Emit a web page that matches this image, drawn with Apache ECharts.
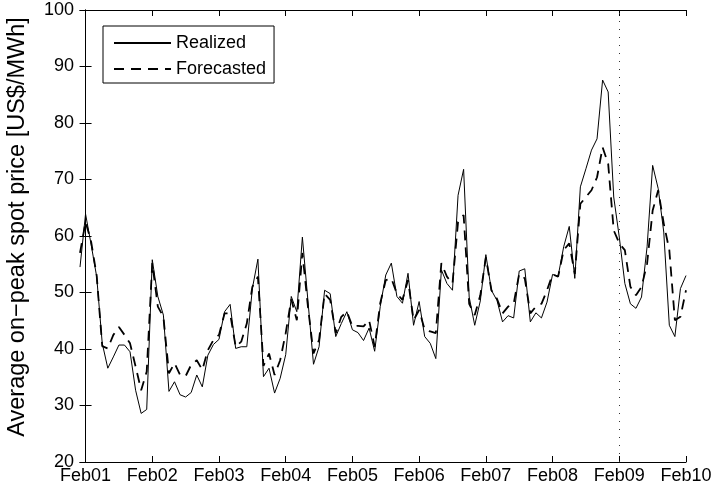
<!DOCTYPE html>
<html>
<head>
<meta charset="utf-8">
<script src="https://cdn.jsdelivr.net/npm/echarts@6/dist/echarts.min.js"></script>
<style>
html,body{margin:0;padding:0;background:#fff;}
#chart{width:712px;height:488px;}
</style>
</head>
<body>
<div id="chart"></div>
<script>
// Sampling: 12 samples per day, first sample one step before Feb01
const samplesPerDay = 12;
const firstSample = -1;

const tickLabels = ['Feb01','Feb02','Feb03','Feb04','Feb05','Feb06','Feb07','Feb08','Feb09','Feb10'];
const tickDays = [0,1,2,3,4,5,6,7,8,9];
const forecastStartDay = 8;

const realized = [
  54.5,
  63.9,58.5,52.8,41.0,36.6,38.6,40.7,40.7,39.5,32.7,28.6,29.3,
  55.8,49.3,46.0,32.5,34.2,31.9,31.5,32.3,35.4,33.3,38.9,40.8,
  41.7,46.6,47.9,40.1,40.4,40.4,50.7,55.9,35.1,36.6,32.2,34.8,
  39.0,49.3,46.6,59.8,48.5,37.3,40.4,50.4,49.8,42.2,44.5,46.6,
  43.4,42.9,41.5,43.7,39.6,47.5,53.1,55.2,49.3,48.1,53.4,44.2,
  48.4,42.2,41.0,38.3,54.0,51.6,50.4,67.2,71.8,49.2,44.2,48.5,
  56.7,50.4,48.6,44.8,45.9,45.5,53.8,54.2,44.8,46.4,45.5,48.3,
  53.2,52.9,58.1,61.7,52.5,68.7,71.9,75.2,77.2,87.6,85.5,66.9,
  59.8,51.6,48.0,47.2,49.2,58.1,72.5,68.4,60.7,44.2,42.2,50.7,
  53.0
];

const forecasted = [
  57.0,
  62.5,59.0,53.0,40.5,40.1,42.5,43.9,42.5,41.0,36.9,32.7,36.0,
  55.2,47.5,45.7,35.7,37.5,35.4,35.2,37.2,38.0,36.3,39.8,41.6,
  42.5,46.3,46.3,40.4,41.3,44.5,51.0,52.8,37.0,39.2,35.4,38.0,
  42.8,48.8,45.1,57.0,47.5,39.2,41.6,49.8,48.7,42.8,45.7,46.6,
  44.0,44.1,44.0,45.1,40.4,48.1,52.2,52.5,49.8,48.7,52.2,45.1,
  46.9,43.4,43.1,42.8,55.2,52.8,51.6,62.5,63.7,48.0,46.0,49.5,
  56.2,50.4,48.9,46.3,47.5,48.0,53.3,52.5,46.3,47.5,48.0,50.4,
  53.2,52.8,57.5,58.7,53.3,65.7,66.9,68.1,70.4,75.7,72.8,61.0,
  58.7,57.5,51.0,49.5,51.0,55.1,64.5,68.1,62.2,57.5,45.1,45.7,
  50.4
];

const times = realized.map((_, i) => (i + firstSample) / samplesPerDay);
const realizedData = realized.map((v, i) => [times[i], v]);
const forecastedData = forecasted.map((v, i) => [times[i], v]);

const FONT = 'Liberation Sans';
const chart = echarts.init(document.getElementById('chart'), null, {renderer: 'canvas'});

const xMin = firstSample / samplesPerDay;
const xMax = 9;

chart.setOption({
  animation: false,
  backgroundColor: '#fff',
  textStyle: {fontFamily: FONT},
  grid: {left: 80, right: 26, top: 10, bottom: 26, outerBoundsMode: 'none', containLabel: false},
  legend: {
    left: 103, top: 26,
    orient: 'vertical',
    backgroundColor: '#fff',
    borderColor: '#000', borderWidth: 1, borderRadius: 0,
    padding: [8, 8, 5, 10],
    itemWidth: 57, itemHeight: 18, itemGap: 8,
    itemStyle: {opacity: 0},
    textStyle: {fontFamily: FONT, fontSize: 18, color: '#000'},
    data: ['Realized', 'Forecasted']
  },
  xAxis: [{
    type: 'value', min: xMin, max: xMax, position: 'bottom',
    axisLine: {show: true, onZero: false, lineStyle: {color: '#000', width: 1}},
    axisTick: {show: true, inside: true, length: 6, customValues: tickDays, lineStyle: {color: '#000'}},
    axisLabel: {show: true, customValues: tickDays, margin: 5, fontFamily: FONT, fontSize: 18, color: '#000',
      formatter: v => tickLabels[Math.round(v)]},
    splitLine: {show: false}
  }, {
    type: 'value', min: xMin, max: xMax, position: 'top',
    axisLine: {show: true, onZero: false, lineStyle: {color: '#000', width: 1}},
    axisTick: {show: true, inside: true, length: 6, customValues: tickDays, lineStyle: {color: '#000'}},
    axisLabel: {show: false},
    splitLine: {show: false}
  }],
  yAxis: [{
    type: 'value', min: 20, max: 100, interval: 10, position: 'left',
    name: 'Average on\u2212peak spot price [US$/MWh]',
    nameLocation: 'middle', nameRotate: 90, nameGap: 50,
    nameTextStyle: {fontFamily: FONT, fontSize: 23.5, color: '#000', padding: [0, 0, 0, 18]},
    axisLine: {show: true, lineStyle: {color: '#000', width: 1}},
    axisTick: {show: true, inside: true, length: 6, lineStyle: {color: '#000'}},
    axisLabel: {show: true, margin: 6, fontFamily: FONT, fontSize: 18, color: '#000'},
    splitLine: {show: false}
  }, {
    type: 'value', min: 20, max: 100, interval: 10, position: 'right',
    axisLine: {show: true, lineStyle: {color: '#000', width: 1}},
    axisTick: {show: true, inside: true, length: 6, lineStyle: {color: '#000'}},
    axisLabel: {show: false},
    splitLine: {show: false}
  }],
  series: [{
    name: 'Realized', type: 'line', data: realizedData,
    xAxisIndex: 0, yAxisIndex: 0,
    symbol: 'none', smooth: false,
    lineStyle: {color: '#000', width: 1, type: 'solid'},
    itemStyle: {color: '#000'},
    markLine: {
      silent: true, symbol: ['none', 'none'], label: {show: false},
      lineStyle: {color: '#333', width: 1, type: [1, 7]},
      data: [{xAxis: forecastStartDay}]
    }
  }, {
    name: 'Forecasted', type: 'line', data: forecastedData,
    xAxisIndex: 0, yAxisIndex: 0,
    symbol: 'none', smooth: false,
    lineStyle: {color: '#000', width: 1.8, type: [10, 7]},
    itemStyle: {color: '#000'}
  }]
});
</script>
</body>
</html>
